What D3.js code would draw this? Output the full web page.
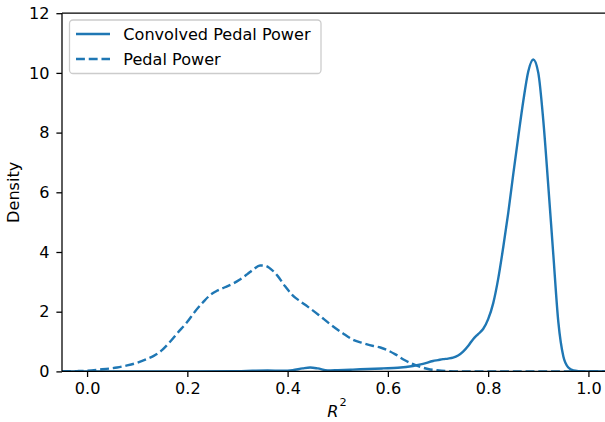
<!DOCTYPE html>
<html>
<head>
<meta charset="utf-8">
<script src="https://cdn.jsdelivr.net/npm/d3@7"></script>
<style>
  html, body { margin: 0; padding: 0; background: #fff; }
  svg { display: block; font-family: "DejaVu Sans", sans-serif; }
</style>
</head>
<body>
<svg id="chart" width="605" height="422"></svg>
<script>
// ---- data ----
const seriesNames = ["Convolved Pedal Power", "Pedal Power"];

const convolvedX = [-0.05, 0.0, 0.1, 0.2, 0.3, 0.33, 0.36, 0.39, 0.41, 0.43, 0.445, 0.46, 0.48, 0.50, 0.53, 0.56, 0.59, 0.62, 0.65, 0.67, 0.69, 0.70, 0.71, 0.72, 0.73, 0.74, 0.75, 0.76, 0.77, 0.78, 0.79, 0.80, 0.81, 0.82, 0.83, 0.84, 0.85, 0.86, 0.87, 0.88, 0.89, 0.90, 0.91, 0.92, 0.93, 0.94, 0.95, 0.96, 0.97, 0.98, 1.0, 1.06];
const convolvedY = [0, 0, 0, 0, 0.005, 0.02, 0.03, 0.02, 0.04, 0.1, 0.13, 0.1, 0.03, 0.04, 0.06, 0.08, 0.1, 0.12, 0.18, 0.25, 0.35, 0.38, 0.41, 0.43, 0.46, 0.53, 0.66, 0.85, 1.08, 1.25, 1.42, 1.75, 2.28, 3.1, 4.15, 5.3, 6.6, 7.85, 9.05, 10.05, 10.45, 10.0, 8.4, 6.2, 3.9, 1.65, 0.5, 0.13, 0.03, 0.01, 0, 0];

const pedalX = [-0.05, -0.02, 0.0, 0.03, 0.06, 0.08, 0.10, 0.12, 0.133, 0.15, 0.166, 0.18, 0.20, 0.215, 0.232, 0.245, 0.259, 0.275, 0.292, 0.305, 0.319, 0.332, 0.345, 0.355, 0.365, 0.38, 0.395, 0.41, 0.425, 0.44, 0.462, 0.485, 0.51, 0.532, 0.55, 0.571, 0.585, 0.598, 0.615, 0.631, 0.648, 0.665, 0.68, 0.698, 0.72, 0.75, 0.8, 0.9, 1.0, 1.06];
const pedalY = [0, 0.01, 0.02, 0.07, 0.13, 0.2, 0.29, 0.42, 0.52, 0.72, 1.0, 1.28, 1.66, 2.0, 2.33, 2.55, 2.7, 2.82, 2.95, 3.08, 3.25, 3.42, 3.55, 3.54, 3.45, 3.2, 2.85, 2.55, 2.35, 2.17, 1.89, 1.58, 1.28, 1.05, 0.95, 0.85, 0.8, 0.72, 0.57, 0.4, 0.26, 0.15, 0.08, 0.04, 0.01, 0, 0, 0, 0, 0];

const xTicks = [0.0, 0.2, 0.4, 0.6, 0.8, 1.0];
const yTicks = [0, 2, 4, 6, 8, 10, 12];

// ---- layout ----
const svg = d3.select("#chart");
svg.append("rect").attr("width", 605).attr("height", 422).attr("fill", "#fff");

const plotLeft = 62, plotTop = 13.2, plotBottom = 371.4, plotRight = 613.5;
const x = d3.scaleLinear().domain([-0.05, 1.05]).range([plotLeft, plotRight]);
const y = d3.scaleLinear().domain([0, 12]).range([plotBottom, plotTop]);
const color = "#1f77b4";
const fontSize = 16.1;
const lw = 2.4;
const dash = "8.9,3.84";

const g = svg.append("g");
const clip = svg.append("defs").append("clipPath").attr("id", "plotclip");
clip.append("rect").attr("x", plotLeft).attr("y", plotTop).attr("width", plotRight - plotLeft).attr("height", plotBottom - plotTop);

const line = d3.line().x(d => x(d[0])).y(d => y(d[1])).curve(d3.curveMonotoneX);

const plot = g.append("g").attr("clip-path", "url(#plotclip)");
plot.append("path")
  .datum(convolvedX.map((v, i) => [v, convolvedY[i]]))
  .attr("d", line).attr("fill", "none").attr("stroke", color)
  .attr("stroke-width", lw).attr("stroke-linejoin", "round");
plot.append("path")
  .datum(pedalX.map((v, i) => [v, pedalY[i]]))
  .attr("d", line).attr("fill", "none").attr("stroke", color)
  .attr("stroke-width", lw).attr("stroke-dasharray", dash);

// axes
const xAxis = d3.axisBottom(x).tickValues(xTicks).tickFormat(d3.format(".1f")).tickSizeOuter(0).tickSize(5.6).tickPadding(6);
const yAxis = d3.axisLeft(y).tickValues(yTicks).tickFormat(d3.format("d")).tickSizeOuter(0).tickSize(5.6).tickPadding(7);

const gx = g.append("g").attr("transform", `translate(0,${plotBottom})`).call(xAxis);
const gy = g.append("g").attr("transform", `translate(${plotLeft},0)`).call(yAxis);
[gx, gy].forEach(a => {
  a.select(".domain").remove();
  a.selectAll(".tick line").attr("stroke", "#000").attr("stroke-width", 1.28);
  a.selectAll(".tick text").attr("font-size", fontSize).attr("fill", "#000")
    .attr("font-family", "DejaVu Sans");
});

// spines (left, bottom, top; right lies beyond the visible area)
g.append("line").attr("x1", plotLeft).attr("x2", plotLeft).attr("y1", plotTop).attr("y2", plotBottom)
  .attr("stroke", "#000").attr("stroke-width", 1.28);
g.append("line").attr("x1", plotLeft).attr("x2", 605).attr("y1", plotBottom).attr("y2", plotBottom)
  .attr("stroke", "#000").attr("stroke-width", 1.28);
g.append("line").attr("x1", plotLeft).attr("x2", 605).attr("y1", plotTop).attr("y2", plotTop)
  .attr("stroke", "#000").attr("stroke-width", 1.28);

// axis labels
svg.append("text").attr("transform", `translate(18.5,${(plotTop + plotBottom) / 2}) rotate(-90)`)
  .attr("text-anchor", "middle").attr("font-size", fontSize).text("Density");
const xl = svg.append("text").attr("x", 337).attr("y", 416.5).attr("text-anchor", "middle").attr("font-size", fontSize);
xl.append("tspan").attr("font-style", "italic").text("R");
xl.append("tspan").attr("font-size", 11.3).attr("dx", 1).attr("dy", -11).text("2");

// legend
const leg = svg.append("g");
leg.append("rect").attr("x", 69.5).attr("y", 20).attr("width", 251.5).attr("height", 53.5)
  .attr("rx", 3.5).attr("fill", "#fff").attr("fill-opacity", 0.8)
  .attr("stroke", "#cccccc").attr("stroke-width", 1.28);
const rowsY = [34, 59];
seriesNames.forEach((name, i) => {
  leg.append("line").attr("x1", 76).attr("x2", 110).attr("y1", rowsY[i]).attr("y2", rowsY[i])
    .attr("stroke", color).attr("stroke-width", lw)
    .attr("stroke-dasharray", i === 1 ? dash : null);
  leg.append("text").attr("x", 123.3).attr("y", rowsY[i]).attr("dy", "0.36em")
    .attr("font-size", fontSize).text(name);
});
</script>
</body>
</html>
